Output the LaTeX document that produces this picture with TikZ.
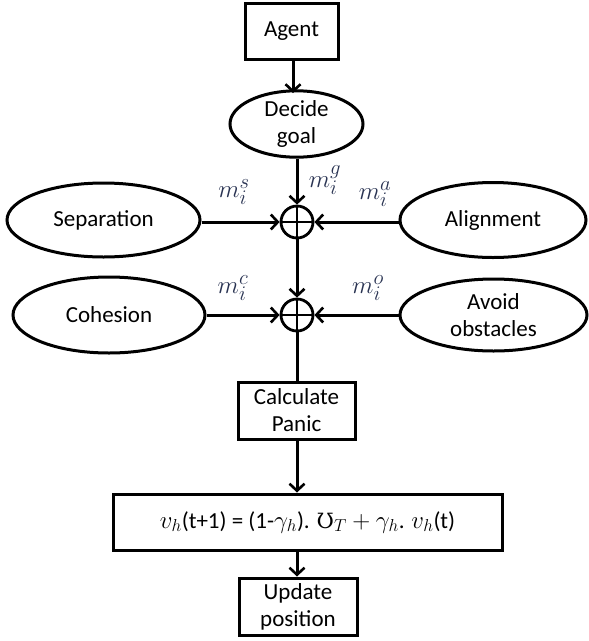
\documentclass[tikz,border=0pt]{standalone}
\usepackage{fontspec}
\setmainfont{Carlito}
\newfontfamily\dvs{DejaVu Serif}
\usetikzlibrary{shapes.geometric,arrows.meta}
\definecolor{lblc}{rgb}{0.16,0.2,0.32}
\tikzset{
  every node/.style={align=center, inner sep=0pt},
  txt/.style={font=\fontsize{23}{27}\selectfont},
  boxn/.style={txt, draw, line width=3pt, rectangle},
  elln/.style={txt, draw, line width=3pt, ellipse},
  sumn/.style={draw, line width=2.8pt, circle, minimum size=32pt,
    path picture={\draw[line width=2.8pt] (path picture bounding box.north) -- (path picture bounding box.south)
      (path picture bounding box.west) -- (path picture bounding box.east);}},
  arr/.style={line width=3pt, -{Straight Barb[length=7pt,width=15pt,line width=2.6pt]}},
  ln/.style={line width=3pt},
  lbl/.style={text=lblc, font=\fontsize{28}{32}\selectfont}
}
\begin{document}
\begin{tikzpicture}[x=1pt,y=-1pt]
\useasboundingbox (0,0) rectangle (589,641);
\node[boxn, minimum width=93pt, minimum height=56pt] (agent) at (291.5,31) {Agent};
\node[elln, minimum width=133pt, minimum height=62pt] (decide) at (296.5,124) {Decide\\goal};
\node[sumn] (c1) at (297,222) {};
\node[sumn] (c2) at (297,315) {};
\node[elln, minimum width=193pt, minimum height=74pt] (sep) at (103.5,220) {Separation};
\node[elln, minimum width=186pt, minimum height=75pt] (align) at (493,220) {Alignment};
\node[elln, minimum width=192pt, minimum height=76pt] (coh) at (109,315) {Cohesion};
\node[elln, minimum width=187pt, minimum height=72pt] (avoid) at (493.5,315) {Avoid\\obstacles};
\node[boxn, minimum width=117pt, minimum height=57pt] (calc) at (296.5,410.5) {Calculate\\Panic};
\node[boxn, minimum width=389pt, minimum height=56pt] (form) at (307.5,522)
  {$v_h$(t+1) = (1-$\gamma_h$). {\dvs\fontsize{21}{25}\selectfont Ʊ}$_T + \gamma_h$. $v_h$(t)};
\node[boxn, minimum width=118pt, minimum height=57pt] (upd) at (298,606.5) {Update\\position};
\node[lbl] (lg) at (325,180) {$m_i^g$};
\node[lbl] (ls) at (234,192) {$m_i^s$};
\node[lbl] (la) at (375,194) {$m_i^a$};
\node[lbl] (lc) at (233,288) {$m_i^c$};
\node[lbl] (lo) at (368,288) {$m_i^o$};
\draw[arr] (agent.south -| 293,0) -- (293,93);
\draw[arr] (decide.south -| c1) -- (c1.north);
\draw[arr] (sep.east |- c1) -- (c1.west);
\draw[arr] (align.west |- c1) -- (c1.east);
\draw[arr] (c1.south) -- (c2.north);
\draw[arr] (coh.east |- c2) -- (c2.west);
\draw[arr] (avoid.west |- c2) -- (c2.east);
\draw[ln] (c2.south) -- (c2 |- calc.north);
\draw[arr] (calc.south -| c2) -- (c2 |- form.north);
\draw[arr] (form.south -| c2) -- (c2 |- upd.north);
\end{tikzpicture}
\end{document}
